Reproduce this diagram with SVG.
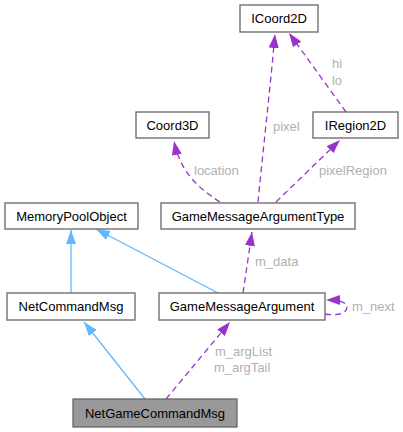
<svg xmlns="http://www.w3.org/2000/svg" width="403" height="432" viewBox="0 0 403 432">
<style>
.n rect{fill:#ffffff;stroke:#666666;stroke-width:1.3}
.n text{font-family:"Liberation Sans",Arial,sans-serif;font-size:13px;fill:#000000;text-anchor:middle}
.b{fill:none;stroke:#63b8ff;stroke-width:1.3}
.p{fill:none;stroke:#9a32cd;stroke-width:1.3;stroke-dasharray:6,4}
.l{font-family:"Liberation Sans",Arial,sans-serif;font-size:13px;fill:#b0b0b0}
</style>
<defs>
<marker id="ab" viewBox="0 -6 15 12" refX="14" refY="0" markerWidth="15" markerHeight="12" markerUnits="userSpaceOnUse" orient="auto"><path d="M0,-5L14,0L0,5z" fill="#63b8ff"/></marker>
<marker id="ap" viewBox="0 -6 15 12" refX="14" refY="0" markerWidth="15" markerHeight="12" markerUnits="userSpaceOnUse" orient="auto"><path d="M0,-5L14,0L0,5z" fill="#9a32cd"/></marker>
</defs>
<rect width="403" height="432" fill="#ffffff"/>
<g id="connectors">
<path class="b" d="M145,399 L84,322" marker-end="url(#ab)"/>
<path class="b" d="M71,293 L71,230" marker-end="url(#ab)"/>
<path class="b" d="M218,293 L96,229" marker-end="url(#ab)"/>
<path class="p" d="M243,293 L252,232" marker-end="url(#ap)"/>
<path class="p" d="M325,314 C337,316 347,314 347,307 C347,302 338,300 326,300" marker-end="url(#ap)"/>
<path class="p" d="M166,399 L230,322" marker-end="url(#ap)"/>
<path class="p" d="M220,202 C195,186 180,170 174,141" marker-end="url(#ap)"/>
<path class="p" d="M258,202 C262,160 270,90 275,34" marker-end="url(#ap)"/>
<path class="p" d="M276,202 L340,140" marker-end="url(#ap)"/>
<path class="p" d="M346,112 L289,33" marker-end="url(#ap)"/>
<text class="l" x="337" y="68" text-anchor="middle">hi</text>
<text class="l" x="337" y="85" text-anchor="middle">lo</text>
<text class="l" x="273" y="131">pixel</text>
<text class="l" x="194" y="175">location</text>
<text class="l" x="319" y="175">pixelRegion</text>
<text class="l" x="255" y="266">m_data</text>
<text class="l" x="352" y="311">m_next</text>
<text class="l" x="215" y="356">m_argList</text>
<text class="l" x="214" y="372">m_argTail</text>
</g>
<g id="ICoord2D" class="n"><rect x="240" y="5" width="78" height="27"/><text x="279" y="23">ICoord2D</text></g>
<g id="IRegion2D" class="n"><rect x="313" y="112" width="85" height="26"/><text x="355.5" y="129.5">IRegion2D</text></g>
<g id="Coord3D" class="n"><rect x="136" y="112" width="73" height="26"/><text x="172.5" y="129.5">Coord3D</text></g>
<g id="GameMessageArgumentType" class="n"><rect x="161" y="203" width="194" height="26"/><text x="258" y="220.5">GameMessageArgumentType</text></g>
<g id="MemoryPoolObject" class="n"><rect x="5" y="203" width="133" height="26"/><text x="71.5" y="220.5">MemoryPoolObject</text></g>
<g id="NetCommandMsg" class="n"><rect x="7" y="293" width="128" height="27"/><text x="71" y="311">NetCommandMsg</text></g>
<g id="GameMessageArgument" class="n"><rect x="159" y="293" width="166" height="27"/><text x="242" y="311">GameMessageArgument</text></g>
<g id="NetGameCommandMsg" class="n"><rect x="73" y="399" width="164" height="28" style="fill:#999999"/><text x="155" y="417.5">NetGameCommandMsg</text></g>
</svg>
